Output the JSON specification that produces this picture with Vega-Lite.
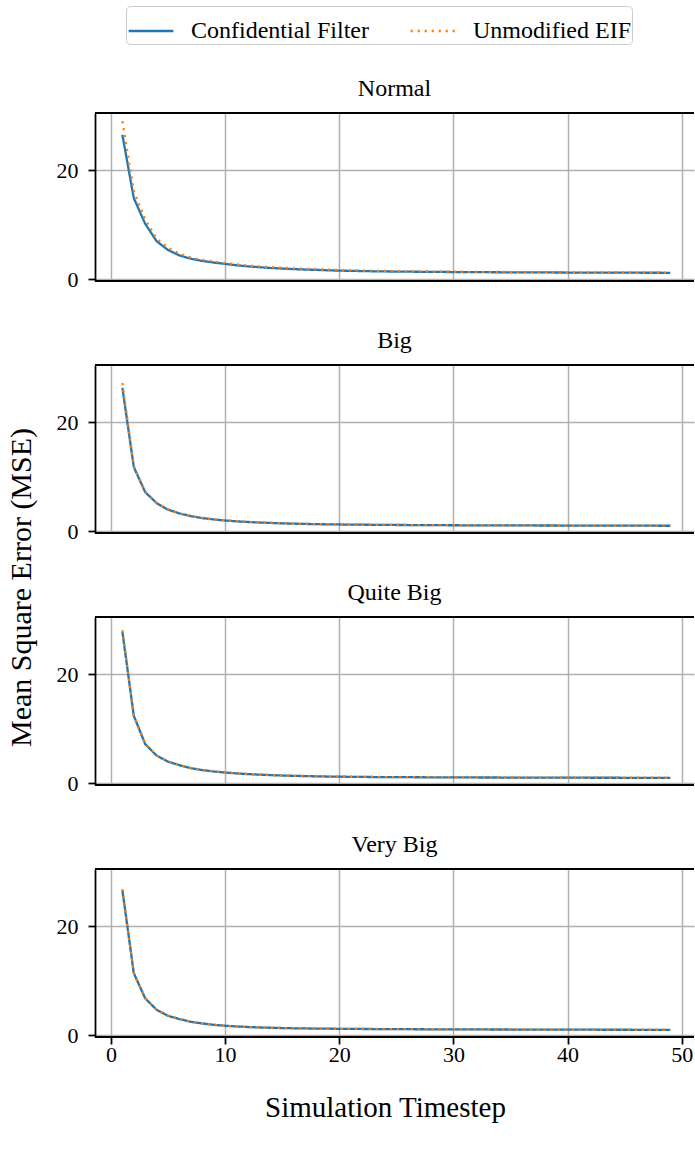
{
  "$schema": "https://vega.github.io/schema/vega-lite/v6.json",
  "padding": {"left": 6, "top": 5, "right": 0, "bottom": 5},
  "background": "white",
  "bounds": "flush",
  "spacing": 84,
  "datasets": {
    "mse": [
      {"p":"Normal","t":1,"Confidential Filter":26.5,"Unmodified EIF":29.0},
      {"p":"Normal","t":2,"Confidential Filter":14.9,"Unmodified EIF":16.2},
      {"p":"Normal","t":3,"Confidential Filter":10.2,"Unmodified EIF":11.0},
      {"p":"Normal","t":4,"Confidential Filter":7.0,"Unmodified EIF":7.5},
      {"p":"Normal","t":5,"Confidential Filter":5.4,"Unmodified EIF":5.8},
      {"p":"Normal","t":6,"Confidential Filter":4.4,"Unmodified EIF":4.7},
      {"p":"Normal","t":7,"Confidential Filter":3.8,"Unmodified EIF":4.0},
      {"p":"Normal","t":8,"Confidential Filter":3.4,"Unmodified EIF":3.6},
      {"p":"Normal","t":9,"Confidential Filter":3.1,"Unmodified EIF":3.3},
      {"p":"Normal","t":10,"Confidential Filter":2.85,"Unmodified EIF":3.0},
      {"p":"Normal","t":11,"Confidential Filter":2.6,"Unmodified EIF":2.75},
      {"p":"Normal","t":12,"Confidential Filter":2.4,"Unmodified EIF":2.55},
      {"p":"Normal","t":13,"Confidential Filter":2.25,"Unmodified EIF":2.4},
      {"p":"Normal","t":14,"Confidential Filter":2.1,"Unmodified EIF":2.25},
      {"p":"Normal","t":15,"Confidential Filter":2.0,"Unmodified EIF":2.15},
      {"p":"Normal","t":16,"Confidential Filter":1.9,"Unmodified EIF":2.05},
      {"p":"Normal","t":17,"Confidential Filter":1.82,"Unmodified EIF":1.95},
      {"p":"Normal","t":18,"Confidential Filter":1.75,"Unmodified EIF":1.87},
      {"p":"Normal","t":19,"Confidential Filter":1.68,"Unmodified EIF":1.8},
      {"p":"Normal","t":20,"Confidential Filter":1.62,"Unmodified EIF":1.74},
      {"p":"Normal","t":21,"Confidential Filter":1.58,"Unmodified EIF":1.68},
      {"p":"Normal","t":22,"Confidential Filter":1.54,"Unmodified EIF":1.64},
      {"p":"Normal","t":23,"Confidential Filter":1.5,"Unmodified EIF":1.6},
      {"p":"Normal","t":24,"Confidential Filter":1.47,"Unmodified EIF":1.56},
      {"p":"Normal","t":25,"Confidential Filter":1.45,"Unmodified EIF":1.53},
      {"p":"Normal","t":26,"Confidential Filter":1.43,"Unmodified EIF":1.5},
      {"p":"Normal","t":27,"Confidential Filter":1.41,"Unmodified EIF":1.48},
      {"p":"Normal","t":28,"Confidential Filter":1.39,"Unmodified EIF":1.46},
      {"p":"Normal","t":29,"Confidential Filter":1.38,"Unmodified EIF":1.44},
      {"p":"Normal","t":30,"Confidential Filter":1.36,"Unmodified EIF":1.42},
      {"p":"Normal","t":31,"Confidential Filter":1.35,"Unmodified EIF":1.41},
      {"p":"Normal","t":32,"Confidential Filter":1.34,"Unmodified EIF":1.4},
      {"p":"Normal","t":33,"Confidential Filter":1.33,"Unmodified EIF":1.38},
      {"p":"Normal","t":34,"Confidential Filter":1.32,"Unmodified EIF":1.37},
      {"p":"Normal","t":35,"Confidential Filter":1.31,"Unmodified EIF":1.36},
      {"p":"Normal","t":36,"Confidential Filter":1.3,"Unmodified EIF":1.35},
      {"p":"Normal","t":37,"Confidential Filter":1.3,"Unmodified EIF":1.34},
      {"p":"Normal","t":38,"Confidential Filter":1.29,"Unmodified EIF":1.33},
      {"p":"Normal","t":39,"Confidential Filter":1.28,"Unmodified EIF":1.32},
      {"p":"Normal","t":40,"Confidential Filter":1.27,"Unmodified EIF":1.31},
      {"p":"Normal","t":41,"Confidential Filter":1.27,"Unmodified EIF":1.3},
      {"p":"Normal","t":42,"Confidential Filter":1.26,"Unmodified EIF":1.3},
      {"p":"Normal","t":43,"Confidential Filter":1.25,"Unmodified EIF":1.29},
      {"p":"Normal","t":44,"Confidential Filter":1.25,"Unmodified EIF":1.28},
      {"p":"Normal","t":45,"Confidential Filter":1.24,"Unmodified EIF":1.28},
      {"p":"Normal","t":46,"Confidential Filter":1.24,"Unmodified EIF":1.27},
      {"p":"Normal","t":47,"Confidential Filter":1.23,"Unmodified EIF":1.27},
      {"p":"Normal","t":48,"Confidential Filter":1.23,"Unmodified EIF":1.26},
      {"p":"Normal","t":49,"Confidential Filter":1.22,"Unmodified EIF":1.26},
      {"p":"Big","t":1,"Confidential Filter":26.3,"Unmodified EIF":27.2},
      {"p":"Big","t":2,"Confidential Filter":11.8,"Unmodified EIF":12.0},
      {"p":"Big","t":3,"Confidential Filter":7.2,"Unmodified EIF":7.3},
      {"p":"Big","t":4,"Confidential Filter":5.2,"Unmodified EIF":5.25},
      {"p":"Big","t":5,"Confidential Filter":4.0,"Unmodified EIF":4.05},
      {"p":"Big","t":6,"Confidential Filter":3.3,"Unmodified EIF":3.33},
      {"p":"Big","t":7,"Confidential Filter":2.8,"Unmodified EIF":2.82},
      {"p":"Big","t":8,"Confidential Filter":2.45,"Unmodified EIF":2.47},
      {"p":"Big","t":9,"Confidential Filter":2.2,"Unmodified EIF":2.22},
      {"p":"Big","t":10,"Confidential Filter":2.0,"Unmodified EIF":2.02},
      {"p":"Big","t":11,"Confidential Filter":1.86,"Unmodified EIF":1.88},
      {"p":"Big","t":12,"Confidential Filter":1.74,"Unmodified EIF":1.76},
      {"p":"Big","t":13,"Confidential Filter":1.64,"Unmodified EIF":1.66},
      {"p":"Big","t":14,"Confidential Filter":1.56,"Unmodified EIF":1.57},
      {"p":"Big","t":15,"Confidential Filter":1.49,"Unmodified EIF":1.5},
      {"p":"Big","t":16,"Confidential Filter":1.43,"Unmodified EIF":1.44},
      {"p":"Big","t":17,"Confidential Filter":1.38,"Unmodified EIF":1.39},
      {"p":"Big","t":18,"Confidential Filter":1.34,"Unmodified EIF":1.35},
      {"p":"Big","t":19,"Confidential Filter":1.31,"Unmodified EIF":1.32},
      {"p":"Big","t":20,"Confidential Filter":1.28,"Unmodified EIF":1.29},
      {"p":"Big","t":21,"Confidential Filter":1.26,"Unmodified EIF":1.27},
      {"p":"Big","t":22,"Confidential Filter":1.24,"Unmodified EIF":1.25},
      {"p":"Big","t":23,"Confidential Filter":1.22,"Unmodified EIF":1.23},
      {"p":"Big","t":24,"Confidential Filter":1.2,"Unmodified EIF":1.21},
      {"p":"Big","t":25,"Confidential Filter":1.19,"Unmodified EIF":1.2},
      {"p":"Big","t":26,"Confidential Filter":1.18,"Unmodified EIF":1.19},
      {"p":"Big","t":27,"Confidential Filter":1.17,"Unmodified EIF":1.17},
      {"p":"Big","t":28,"Confidential Filter":1.16,"Unmodified EIF":1.16},
      {"p":"Big","t":29,"Confidential Filter":1.15,"Unmodified EIF":1.15},
      {"p":"Big","t":30,"Confidential Filter":1.14,"Unmodified EIF":1.14},
      {"p":"Big","t":31,"Confidential Filter":1.13,"Unmodified EIF":1.14},
      {"p":"Big","t":32,"Confidential Filter":1.12,"Unmodified EIF":1.13},
      {"p":"Big","t":33,"Confidential Filter":1.12,"Unmodified EIF":1.12},
      {"p":"Big","t":34,"Confidential Filter":1.11,"Unmodified EIF":1.12},
      {"p":"Big","t":35,"Confidential Filter":1.11,"Unmodified EIF":1.11},
      {"p":"Big","t":36,"Confidential Filter":1.1,"Unmodified EIF":1.11},
      {"p":"Big","t":37,"Confidential Filter":1.1,"Unmodified EIF":1.1},
      {"p":"Big","t":38,"Confidential Filter":1.09,"Unmodified EIF":1.1},
      {"p":"Big","t":39,"Confidential Filter":1.09,"Unmodified EIF":1.09},
      {"p":"Big","t":40,"Confidential Filter":1.08,"Unmodified EIF":1.09},
      {"p":"Big","t":41,"Confidential Filter":1.08,"Unmodified EIF":1.08},
      {"p":"Big","t":42,"Confidential Filter":1.07,"Unmodified EIF":1.08},
      {"p":"Big","t":43,"Confidential Filter":1.07,"Unmodified EIF":1.07},
      {"p":"Big","t":44,"Confidential Filter":1.07,"Unmodified EIF":1.07},
      {"p":"Big","t":45,"Confidential Filter":1.06,"Unmodified EIF":1.07},
      {"p":"Big","t":46,"Confidential Filter":1.06,"Unmodified EIF":1.06},
      {"p":"Big","t":47,"Confidential Filter":1.06,"Unmodified EIF":1.06},
      {"p":"Big","t":48,"Confidential Filter":1.05,"Unmodified EIF":1.06},
      {"p":"Big","t":49,"Confidential Filter":1.05,"Unmodified EIF":1.05},
      {"p":"Quite Big","t":1,"Confidential Filter":27.8,"Unmodified EIF":28.1},
      {"p":"Quite Big","t":2,"Confidential Filter":12.4,"Unmodified EIF":12.6},
      {"p":"Quite Big","t":3,"Confidential Filter":7.2,"Unmodified EIF":7.3},
      {"p":"Quite Big","t":4,"Confidential Filter":5.1,"Unmodified EIF":5.15},
      {"p":"Quite Big","t":5,"Confidential Filter":4.0,"Unmodified EIF":4.03},
      {"p":"Quite Big","t":6,"Confidential Filter":3.35,"Unmodified EIF":3.37},
      {"p":"Quite Big","t":7,"Confidential Filter":2.8,"Unmodified EIF":2.82},
      {"p":"Quite Big","t":8,"Confidential Filter":2.45,"Unmodified EIF":2.46},
      {"p":"Quite Big","t":9,"Confidential Filter":2.2,"Unmodified EIF":2.21},
      {"p":"Quite Big","t":10,"Confidential Filter":2.0,"Unmodified EIF":2.01},
      {"p":"Quite Big","t":11,"Confidential Filter":1.85,"Unmodified EIF":1.86},
      {"p":"Quite Big","t":12,"Confidential Filter":1.72,"Unmodified EIF":1.73},
      {"p":"Quite Big","t":13,"Confidential Filter":1.62,"Unmodified EIF":1.63},
      {"p":"Quite Big","t":14,"Confidential Filter":1.53,"Unmodified EIF":1.54},
      {"p":"Quite Big","t":15,"Confidential Filter":1.46,"Unmodified EIF":1.47},
      {"p":"Quite Big","t":16,"Confidential Filter":1.4,"Unmodified EIF":1.41},
      {"p":"Quite Big","t":17,"Confidential Filter":1.35,"Unmodified EIF":1.36},
      {"p":"Quite Big","t":18,"Confidential Filter":1.31,"Unmodified EIF":1.31},
      {"p":"Quite Big","t":19,"Confidential Filter":1.27,"Unmodified EIF":1.28},
      {"p":"Quite Big","t":20,"Confidential Filter":1.24,"Unmodified EIF":1.25},
      {"p":"Quite Big","t":21,"Confidential Filter":1.22,"Unmodified EIF":1.23},
      {"p":"Quite Big","t":22,"Confidential Filter":1.2,"Unmodified EIF":1.21},
      {"p":"Quite Big","t":23,"Confidential Filter":1.18,"Unmodified EIF":1.19},
      {"p":"Quite Big","t":24,"Confidential Filter":1.17,"Unmodified EIF":1.18},
      {"p":"Quite Big","t":25,"Confidential Filter":1.16,"Unmodified EIF":1.17},
      {"p":"Quite Big","t":26,"Confidential Filter":1.15,"Unmodified EIF":1.16},
      {"p":"Quite Big","t":27,"Confidential Filter":1.14,"Unmodified EIF":1.15},
      {"p":"Quite Big","t":28,"Confidential Filter":1.13,"Unmodified EIF":1.14},
      {"p":"Quite Big","t":29,"Confidential Filter":1.12,"Unmodified EIF":1.13},
      {"p":"Quite Big","t":30,"Confidential Filter":1.11,"Unmodified EIF":1.12},
      {"p":"Quite Big","t":31,"Confidential Filter":1.1,"Unmodified EIF":1.11},
      {"p":"Quite Big","t":32,"Confidential Filter":1.1,"Unmodified EIF":1.11},
      {"p":"Quite Big","t":33,"Confidential Filter":1.09,"Unmodified EIF":1.1},
      {"p":"Quite Big","t":34,"Confidential Filter":1.09,"Unmodified EIF":1.1},
      {"p":"Quite Big","t":35,"Confidential Filter":1.08,"Unmodified EIF":1.09},
      {"p":"Quite Big","t":36,"Confidential Filter":1.08,"Unmodified EIF":1.09},
      {"p":"Quite Big","t":37,"Confidential Filter":1.07,"Unmodified EIF":1.08},
      {"p":"Quite Big","t":38,"Confidential Filter":1.07,"Unmodified EIF":1.08},
      {"p":"Quite Big","t":39,"Confidential Filter":1.06,"Unmodified EIF":1.07},
      {"p":"Quite Big","t":40,"Confidential Filter":1.06,"Unmodified EIF":1.07},
      {"p":"Quite Big","t":41,"Confidential Filter":1.06,"Unmodified EIF":1.07},
      {"p":"Quite Big","t":42,"Confidential Filter":1.05,"Unmodified EIF":1.06},
      {"p":"Quite Big","t":43,"Confidential Filter":1.05,"Unmodified EIF":1.06},
      {"p":"Quite Big","t":44,"Confidential Filter":1.05,"Unmodified EIF":1.06},
      {"p":"Quite Big","t":45,"Confidential Filter":1.04,"Unmodified EIF":1.05},
      {"p":"Quite Big","t":46,"Confidential Filter":1.04,"Unmodified EIF":1.05},
      {"p":"Quite Big","t":47,"Confidential Filter":1.04,"Unmodified EIF":1.05},
      {"p":"Quite Big","t":48,"Confidential Filter":1.04,"Unmodified EIF":1.05},
      {"p":"Quite Big","t":49,"Confidential Filter":1.03,"Unmodified EIF":1.04},
      {"p":"Very Big","t":1,"Confidential Filter":26.6,"Unmodified EIF":26.8},
      {"p":"Very Big","t":2,"Confidential Filter":11.4,"Unmodified EIF":11.5},
      {"p":"Very Big","t":3,"Confidential Filter":6.8,"Unmodified EIF":6.85},
      {"p":"Very Big","t":4,"Confidential Filter":4.7,"Unmodified EIF":4.73},
      {"p":"Very Big","t":5,"Confidential Filter":3.6,"Unmodified EIF":3.62},
      {"p":"Very Big","t":6,"Confidential Filter":3.0,"Unmodified EIF":3.02},
      {"p":"Very Big","t":7,"Confidential Filter":2.5,"Unmodified EIF":2.52},
      {"p":"Very Big","t":8,"Confidential Filter":2.2,"Unmodified EIF":2.21},
      {"p":"Very Big","t":9,"Confidential Filter":1.95,"Unmodified EIF":1.96},
      {"p":"Very Big","t":10,"Confidential Filter":1.78,"Unmodified EIF":1.79},
      {"p":"Very Big","t":11,"Confidential Filter":1.65,"Unmodified EIF":1.66},
      {"p":"Very Big","t":12,"Confidential Filter":1.55,"Unmodified EIF":1.56},
      {"p":"Very Big","t":13,"Confidential Filter":1.47,"Unmodified EIF":1.48},
      {"p":"Very Big","t":14,"Confidential Filter":1.41,"Unmodified EIF":1.42},
      {"p":"Very Big","t":15,"Confidential Filter":1.36,"Unmodified EIF":1.37},
      {"p":"Very Big","t":16,"Confidential Filter":1.32,"Unmodified EIF":1.33},
      {"p":"Very Big","t":17,"Confidential Filter":1.29,"Unmodified EIF":1.3},
      {"p":"Very Big","t":18,"Confidential Filter":1.26,"Unmodified EIF":1.27},
      {"p":"Very Big","t":19,"Confidential Filter":1.24,"Unmodified EIF":1.25},
      {"p":"Very Big","t":20,"Confidential Filter":1.22,"Unmodified EIF":1.23},
      {"p":"Very Big","t":21,"Confidential Filter":1.2,"Unmodified EIF":1.21},
      {"p":"Very Big","t":22,"Confidential Filter":1.19,"Unmodified EIF":1.2},
      {"p":"Very Big","t":23,"Confidential Filter":1.18,"Unmodified EIF":1.19},
      {"p":"Very Big","t":24,"Confidential Filter":1.17,"Unmodified EIF":1.18},
      {"p":"Very Big","t":25,"Confidential Filter":1.16,"Unmodified EIF":1.17},
      {"p":"Very Big","t":26,"Confidential Filter":1.15,"Unmodified EIF":1.16},
      {"p":"Very Big","t":27,"Confidential Filter":1.14,"Unmodified EIF":1.15},
      {"p":"Very Big","t":28,"Confidential Filter":1.13,"Unmodified EIF":1.14},
      {"p":"Very Big","t":29,"Confidential Filter":1.12,"Unmodified EIF":1.13},
      {"p":"Very Big","t":30,"Confidential Filter":1.11,"Unmodified EIF":1.12},
      {"p":"Very Big","t":31,"Confidential Filter":1.11,"Unmodified EIF":1.12},
      {"p":"Very Big","t":32,"Confidential Filter":1.1,"Unmodified EIF":1.11},
      {"p":"Very Big","t":33,"Confidential Filter":1.1,"Unmodified EIF":1.11},
      {"p":"Very Big","t":34,"Confidential Filter":1.09,"Unmodified EIF":1.1},
      {"p":"Very Big","t":35,"Confidential Filter":1.09,"Unmodified EIF":1.1},
      {"p":"Very Big","t":36,"Confidential Filter":1.08,"Unmodified EIF":1.09},
      {"p":"Very Big","t":37,"Confidential Filter":1.08,"Unmodified EIF":1.09},
      {"p":"Very Big","t":38,"Confidential Filter":1.07,"Unmodified EIF":1.08},
      {"p":"Very Big","t":39,"Confidential Filter":1.07,"Unmodified EIF":1.08},
      {"p":"Very Big","t":40,"Confidential Filter":1.06,"Unmodified EIF":1.07},
      {"p":"Very Big","t":41,"Confidential Filter":1.06,"Unmodified EIF":1.07},
      {"p":"Very Big","t":42,"Confidential Filter":1.06,"Unmodified EIF":1.07},
      {"p":"Very Big","t":43,"Confidential Filter":1.05,"Unmodified EIF":1.06},
      {"p":"Very Big","t":44,"Confidential Filter":1.05,"Unmodified EIF":1.06},
      {"p":"Very Big","t":45,"Confidential Filter":1.05,"Unmodified EIF":1.06},
      {"p":"Very Big","t":46,"Confidential Filter":1.04,"Unmodified EIF":1.05},
      {"p":"Very Big","t":47,"Confidential Filter":1.04,"Unmodified EIF":1.05},
      {"p":"Very Big","t":48,"Confidential Filter":1.04,"Unmodified EIF":1.05},
      {"p":"Very Big","t":49,"Confidential Filter":1.03,"Unmodified EIF":1.04}
    ]
  },
  "data": {"name": "mse"},
  "transform": [{"fold": ["Confidential Filter", "Unmodified EIF"], "as": ["series", "mse"]}],
  "vconcat": [
    {
      "title": "Normal",
      "width": 599, "height": 168,
      "transform": [{"filter": "datum.p == 'Normal'"}],
      "layer": [
        {"transform": [{"filter": "datum.t == 1 && datum.series == 'Confidential Filter'"}], "mark": {"type": "rule", "color": "black", "strokeWidth": 2}, "encoding": {"y": {"datum": 30.5, "scale": {"domain": [-0.28, 30.5], "nice": false, "zero": false}}}},
        {"transform": [{"filter": "datum.t == 1 && datum.series == 'Confidential Filter'"}], "mark": {"type": "rule", "color": "black", "strokeWidth": 2}, "encoding": {"y": {"datum": -0.28}}},
        {
          "mark": {"type": "line", "strokeWidth": 2.3, "clip": true},
          "encoding": {
            "x": {"field": "t", "type": "quantitative", "scale": {"domain": [-1.4, 51.08], "nice": false, "zero": false},
                  "axis": {"values": [0, 10, 20, 30, 40, 50], "title": null, "labels": false, "ticks": false, "domain": false}},
            "y": {"field": "mse", "type": "quantitative", "scale": {"domain": [-0.28, 30.5], "nice": false, "zero": false},
                  "axis": {"values": [0, 20], "title": null}},
            "color": {"field": "series", "type": "nominal", "scale": {"domain": ["Confidential Filter", "Unmodified EIF"], "range": ["#1f77b4", "#ff7f0e"]}, "legend": {"title": null}},
            "strokeDash": {"field": "series", "type": "nominal", "scale": {"domain": ["Confidential Filter", "Unmodified EIF"], "range": [[1, 0], [2.2, 4.8]]}, "legend": {"title": null}}
          }
        }
      ]
    },
    {
      "title": "Big",
      "width": 599, "height": 168,
      "transform": [{"filter": "datum.p == 'Big'"}],
      "layer": [
        {"transform": [{"filter": "datum.t == 1 && datum.series == 'Confidential Filter'"}], "mark": {"type": "rule", "color": "black", "strokeWidth": 2}, "encoding": {"y": {"datum": 30.5, "scale": {"domain": [-0.28, 30.5], "nice": false, "zero": false}}}},
        {"transform": [{"filter": "datum.t == 1 && datum.series == 'Confidential Filter'"}], "mark": {"type": "rule", "color": "black", "strokeWidth": 2}, "encoding": {"y": {"datum": -0.28}}},
        {
          "mark": {"type": "line", "strokeWidth": 2.3, "clip": true},
          "encoding": {
            "x": {"field": "t", "type": "quantitative", "scale": {"domain": [-1.4, 51.08], "nice": false, "zero": false},
                  "axis": {"values": [0, 10, 20, 30, 40, 50], "title": null, "labels": false, "ticks": false, "domain": false}},
            "y": {"field": "mse", "type": "quantitative", "scale": {"domain": [-0.28, 30.5], "nice": false, "zero": false},
                  "axis": {"values": [0, 20], "title": "Mean Square Error (MSE)", "titleY": 222}},
            "color": {"field": "series", "type": "nominal", "scale": {"domain": ["Confidential Filter", "Unmodified EIF"], "range": ["#1f77b4", "#ff7f0e"]}, "legend": {"title": null}},
            "strokeDash": {"field": "series", "type": "nominal", "scale": {"domain": ["Confidential Filter", "Unmodified EIF"], "range": [[1, 0], [2.2, 4.8]]}, "legend": {"title": null}}
          }
        }
      ]
    },
    {
      "title": "Quite Big",
      "width": 599, "height": 168,
      "transform": [{"filter": "datum.p == 'Quite Big'"}],
      "layer": [
        {"transform": [{"filter": "datum.t == 1 && datum.series == 'Confidential Filter'"}], "mark": {"type": "rule", "color": "black", "strokeWidth": 2}, "encoding": {"y": {"datum": 30.5, "scale": {"domain": [-0.28, 30.5], "nice": false, "zero": false}}}},
        {"transform": [{"filter": "datum.t == 1 && datum.series == 'Confidential Filter'"}], "mark": {"type": "rule", "color": "black", "strokeWidth": 2}, "encoding": {"y": {"datum": -0.28}}},
        {
          "mark": {"type": "line", "strokeWidth": 2.3, "clip": true},
          "encoding": {
            "x": {"field": "t", "type": "quantitative", "scale": {"domain": [-1.4, 51.08], "nice": false, "zero": false},
                  "axis": {"values": [0, 10, 20, 30, 40, 50], "title": null, "labels": false, "ticks": false, "domain": false}},
            "y": {"field": "mse", "type": "quantitative", "scale": {"domain": [-0.28, 30.5], "nice": false, "zero": false},
                  "axis": {"values": [0, 20], "title": null}},
            "color": {"field": "series", "type": "nominal", "scale": {"domain": ["Confidential Filter", "Unmodified EIF"], "range": ["#1f77b4", "#ff7f0e"]}, "legend": {"title": null}},
            "strokeDash": {"field": "series", "type": "nominal", "scale": {"domain": ["Confidential Filter", "Unmodified EIF"], "range": [[1, 0], [2.2, 4.8]]}, "legend": {"title": null}}
          }
        }
      ]
    },
    {
      "title": "Very Big",
      "width": 599, "height": 168,
      "transform": [{"filter": "datum.p == 'Very Big'"}],
      "layer": [
        {"transform": [{"filter": "datum.t == 1 && datum.series == 'Confidential Filter'"}], "mark": {"type": "rule", "color": "black", "strokeWidth": 2}, "encoding": {"y": {"datum": 30.5, "scale": {"domain": [-0.28, 30.5], "nice": false, "zero": false}}}},
        {"transform": [{"filter": "datum.t == 1 && datum.series == 'Confidential Filter'"}], "mark": {"type": "rule", "color": "black", "strokeWidth": 2}, "encoding": {"y": {"datum": -0.28}}},
        {
          "mark": {"type": "line", "strokeWidth": 2.3, "clip": true},
          "encoding": {
            "x": {"field": "t", "type": "quantitative", "scale": {"domain": [-1.4, 51.08], "nice": false, "zero": false},
                  "axis": {"values": [0, 10, 20, 30, 40, 50], "title": "Simulation Timestep", "titleFontSize": 29, "titlePadding": 28, "titleX": 290, "labelPadding": 0, "domain": false}},
            "y": {"field": "mse", "type": "quantitative", "scale": {"domain": [-0.28, 30.5], "nice": false, "zero": false},
                  "axis": {"values": [0, 20], "title": null}},
            "color": {"field": "series", "type": "nominal", "scale": {"domain": ["Confidential Filter", "Unmodified EIF"], "range": ["#1f77b4", "#ff7f0e"]}, "legend": {"title": null}},
            "strokeDash": {"field": "series", "type": "nominal", "scale": {"domain": ["Confidential Filter", "Unmodified EIF"], "range": [[1, 0], [2.2, 4.8]]}, "legend": {"title": null}}
          }
        }
      ]
    }
  ],
  "config": {
    "font": "Liberation Serif",
    "view": {"stroke": null},
    "title": {"font": "Liberation Serif", "fontSize": 24, "fontWeight": "normal", "color": "black", "offset": 11, "anchor": "middle"},
    "axis": {
      "labelFont": "Liberation Serif", "labelFontSize": 22, "labelColor": "black",
      "titleFont": "Liberation Serif", "titleFontSize": 30, "titleFontWeight": "normal", "titleColor": "black",
      "tickColor": "black", "tickSize": 7, "tickWidth": 1.75,
      "domainColor": "black", "domainWidth": 1.75,
      "grid": true, "gridColor": "#b0b0b0", "gridWidth": 1.5
    },
    "axisY": {"labelPadding": 10, "titlePadding": 20},
    "legend": {
      "orient": "none", "legendX": 31, "legendY": -107, "direction": "horizontal",
      "symbolType": "stroke", "symbolSize": 2000, "symbolStrokeWidth": 2.3,
      "labelFont": "Liberation Serif", "labelFontSize": 24, "labelColor": "black", "labelOffset": 16, "labelLimit": 0,
      "columnPadding": 37, "padding": 1, "strokeColor": "#cccccc", "cornerRadius": 4, "fillColor": "white"
    }
  }
}
